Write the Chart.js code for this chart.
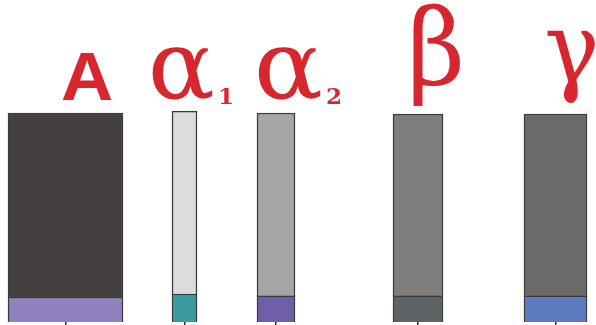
<!DOCTYPE html>
<html lang="en">
<head>
    <meta charset="UTF-8">
    <title>Subunits</title>
    <style>
        html, body {
            margin: 0;
            padding: 0;
            background: #ffffff;
        }
        .chart-box {
            width: 596px;
            height: 325px;
        }
    </style>
</head>
<body>
    <div class="chart-box">
        <canvas id="subunitChart" width="596" height="325"></canvas>
    </div>
    <script src="https://cdn.jsdelivr.net/npm/chart.js"></script>
    <script>
        // data (percent of full height)
        const categories = ['A', 'α₁', 'α₂', 'β', 'γ'];
        const lowerPart = [11.8, 13.2, 12.3, 12.3, 12.3];
        const upperPart = [86.8, 86.3, 86.3, 85.8, 85.8];

        // layout / style
        const barCenter = [65.5, 184.5, 276, 418, 555.5];
        const barWidth = [115, 25, 38, 50, 63];
        const lowerColors = ['#9182bf', '#3a9aa0', '#6f5ea8', '#5e6366', '#5f7bc0'];
        const upperColors = ['#45403f', '#dcdcdc', '#a5a5a5', '#7f7e7d', '#6b6a69'];
        const labelColor = '#d8262e';
        const labelStyle = [
            { font: 'bold 68px "Liberation Sans"', left: -3.5, bottom: 100, width: 50 },
            { font: '96px "DejaVu Serif"', left: -32.5, bottom: 102, width: 61 },
            { font: '96px "DejaVu Serif"', left: -18, bottom: 102, width: 63 },
            { font: '104px "DejaVu Serif"', left: -5, bottom: 106, width: 47 },
            { font: '100px "DejaVu Serif"', left: -8.5, bottom: 103, width: 48 }
        ];
        const subDigits = { '₁': '1', '₂': '2' };

        const datasets = [];
        categories.forEach((cat, i) => {
            datasets.push({
                label: cat + ' lower',
                data: [{ x: barCenter[i], y: lowerPart[i] }],
                backgroundColor: lowerColors[i],
                borderColor: '#3b3b3e',
                borderWidth: 1.5,
                barThickness: barWidth[i],
                grouped: false,
                stack: 's'
            });
            datasets.push({
                label: cat + ' upper',
                data: [{ x: barCenter[i], y: upperPart[i] }],
                backgroundColor: upperColors[i],
                borderColor: '#3b3b3e',
                borderWidth: 1.5,
                barThickness: barWidth[i],
                grouped: false,
                stack: 's'
            });
        });

        const topLabels = {
            id: 'topLabels',
            afterDraw(chart) {
                const ctx = chart.ctx;
                const xs = chart.scales.x;
                ctx.save();
                ctx.fillStyle = labelColor;
                ctx.textBaseline = 'alphabetic';
                ctx.textAlign = 'left';
                categories.forEach((cat, i) => {
                    const st = labelStyle[i];
                    const main = cat[0];
                    const sub = cat.slice(1);
                    ctx.font = st.font;
                    const m = ctx.measureText(main);
                    const inkW = m.actualBoundingBoxLeft + m.actualBoundingBoxRight;
                    const sx = st.width / inkW;
                    const left = xs.getPixelForValue(barCenter[i]) + st.left;
                    const baseY = st.bottom - m.actualBoundingBoxDescent;
                    ctx.save();
                    ctx.translate(left, baseY);
                    ctx.scale(sx, 1);
                    ctx.fillText(main, m.actualBoundingBoxLeft, 0);
                    ctx.restore();
                    if (sub) {
                        const digit = subDigits[sub] || sub;
                        ctx.font = '600 23px "DejaVu Serif"';
                        ctx.fillText(digit, left + st.width + 5, 104);
                    }
                });
                ctx.restore();
            }
        };

        new Chart(document.getElementById('subunitChart'), {
            type: 'bar',
            data: { datasets: datasets },
            options: {
                responsive: false,
                animation: false,
                layout: { padding: { top: 110, left: 0, right: 0, bottom: 0 } },
                plugins: {
                    legend: { display: false },
                    tooltip: { enabled: false }
                },
                scales: {
                    x: {
                        type: 'linear',
                        offset: false,
                        bounds: 'ticks',
                        min: 0,
                        max: 596,
                        afterBuildTicks: (axis) => {
                            axis.ticks = barCenter.map(v => ({ value: v }));
                        },
                        ticks: { display: false },
                        grid: {
                            offset: false,
                            drawOnChartArea: false,
                            drawTicks: true,
                            tickLength: 3,
                            color: '#333333',
                            lineWidth: 1.5
                        },
                        border: { display: false }
                    },
                    y: {
                        display: false,
                        stacked: true,
                        min: 0,
                        max: 100
                    }
                }
            },
            plugins: [topLabels]
        });
    </script>
</body>
</html>
